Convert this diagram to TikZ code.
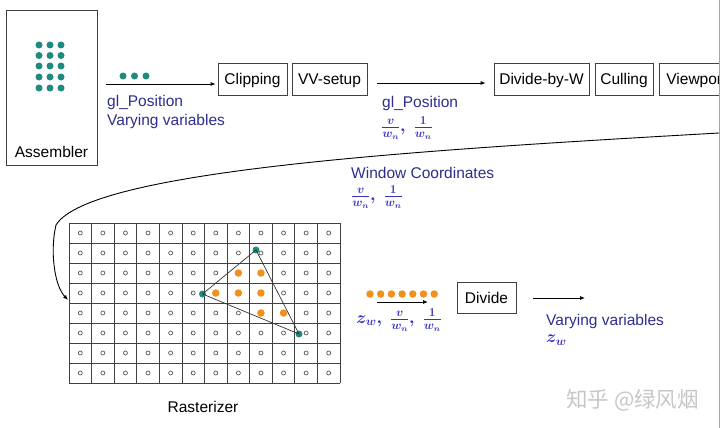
\documentclass[tikz,border=0pt]{standalone}
\usepackage{fontspec}
\setmainfont{Liberation Sans}
\newfontfamily\cjkfont{Noto Sans CJK SC}
\usetikzlibrary{arrows.meta}
\definecolor{navytxt}{HTML}{2E2E8E}
\definecolor{mathblue}{HTML}{3434C4}
\definecolor{tealdot}{HTML}{1E8A80}
\definecolor{orangedot}{HTML}{F2901E}
\tikzset{
  stagebox/.style={draw=black!75, line width=0.8pt, minimum height=32pt, inner sep=0pt, text depth=0pt, font=\fontsize{15.5}{18}\selectfont},
  lbl/.style={inner sep=0pt, anchor=west, text=navytxt, font=\fontsize{15.5}{18}\selectfont},
  mlbl/.style={inner sep=0pt, anchor=west, text=mathblue, font=\fontsize{17}{19}\selectfont\boldmath},
  flow/.style={line width=0.8pt, -{Latex[length=5pt,width=4pt]}},
  tdot/.style={circle, fill=tealdot, inner sep=0pt, minimum size=7pt},
  odot/.style={circle, fill=orangedot, inner sep=0pt, minimum size=7.5pt},
  pix/.style={circle, draw=black!65, line width=0.7pt, inner sep=0pt, minimum size=4pt},
}
\begin{document}
\begin{tikzpicture}[x=1pt,y=-1pt]
\useasboundingbox (0,0) rectangle (720,428);
\fill[white] (0,0) rectangle (720,428);

% Assembler
\draw[draw=black!75, line width=0.8pt] (6,10) rectangle (97,165);
\node[inner sep=0pt, font=\fontsize{15.5}{18}\selectfont] (asm) at (51.5,152) {Assembler};
\foreach \r/\yy in {0/45,1/55.5,2/66,3/77,4/88}
  \foreach \c/\xx in {0/39,1/50,2/61}
    \node[tdot] (a\r\c) at (\xx,\yy) {};

% top pipeline
\node[stagebox, minimum width=69pt] (clip) at (252.5,79) {Clipping};
\node[stagebox, minimum width=75pt] (vv) at (329.5,79) {VV-setup};
\node[stagebox, minimum width=95pt] (dbw) at (541.5,79) {Divide-by-W};
\node[stagebox, minimum width=58pt] (cull) at (624,79) {Culling};
\begin{scope}
\clip (0,0) rectangle (719,428);
\node[stagebox, minimum width=74pt, anchor=west] (vp) at (659,79) {Viewport};
\end{scope}

\coordinate (s1) at (106,84);
\draw[flow, shorten >=2pt] (s1) -- (s1 -| clip.west);
\foreach \i/\xx in {1/123,2/134.5,3/146}
  \node[tdot] (t\i) at (\xx,76) {};
\node[lbl] (gl1) at (107,102) {gl\_Position};
\node[lbl] (vv1) at (107,121) {Varying variables};

\coordinate (s2) at (377,83);
\draw[flow, shorten >=8pt] (s2) -- (s2 -| dbw.west);
\node[lbl] (gl2) at (382,103) {gl\_Position};
\node[mlbl] (f2) at (381,128) {$\frac{v}{w_n},\ \frac{1}{w_n}$};

% right edge line
\draw[gray!70, line width=1pt] (719,0) -- (719,428);

% curve to rasterizer
\coordinate (cstart) at (719,133);
\coordinate (cend) at (68,300);
\draw[line width=0.9pt, -{Latex[length=5pt,width=4pt]}] (cstart) .. controls (420,150) and (90,170) .. (56,225) .. controls (50,250) and (54,285) .. (cend);
\node[lbl] (wc) at (351,173) {Window Coordinates};
\node[mlbl] (f3) at (351,197) {$\frac{v}{w_n},\ \frac{1}{w_n}$};

% grid
\def\gx{69}\def\gy{223}\def\cw{22.583}\def\ch{20}
\foreach \i in {0,...,12}
  \draw[black!75, line width=0.7pt] ({\gx+\i*\cw},\gy) -- ({\gx+\i*\cw},{\gy+8*\ch});
\foreach \j in {0,...,8}
  \draw[black!75, line width=0.7pt] (\gx,{\gy+\j*\ch}) -- ({\gx+12*\cw},{\gy+\j*\ch});
\foreach \i in {0,...,11}
  \foreach \j in {0,...,7}{
    \def\isorange{0}
    \foreach \p/\q in {7/2,8/2,6/3,7/3,8/3,8/4,9/4}{
      \ifnum\i=\p\relax\ifnum\j=\q\relax\xdef\isorange{1}\fi\fi
    }
    \ifnum\isorange=1
      \node[odot] (o\i-\j) at ({\gx+(\i+0.5)*\cw},{\gy+(\j+0.5)*\ch}) {};
    \else
      \node[pix] (p\i-\j) at ({\gx+(\i+0.5)*\cw},{\gy+(\j+0.5)*\ch}) {};
    \fi
    \gdef\isorange{0}
  }
% triangle
\node[tdot] (va) at (256,250) {};
\node[tdot] (vb) at (202.5,294) {};
\node[tdot] (vc) at (299,334) {};
\draw[black!80, line width=0.7pt] (va.center) -- (vb.center) -- (vc.center) -- cycle;
\node[inner sep=0pt, font=\fontsize{15.5}{18}\selectfont] (rast) at (203,407) {Rasterizer};

% divide stage
\foreach \k in {0,...,6}
  \node[odot] (d\k) at ({370+\k*10.7},294) {};
\coordinate (s3) at (377,302);
\coordinate (e3) at (428,302);
\draw[flow] (s3) -- (e3);
\node[mlbl] (f4) at (356,320) {$z_w,\ \frac{v}{w_n},\ \frac{1}{w_n}$};
\node[stagebox, minimum width=59pt, minimum height=31pt] (div) at (486.5,297.5) {Divide};
\coordinate (e4) at (585,298);
\draw[flow, shorten <=17pt] (div.east |- e4) -- (e4);
\node[lbl] (vv2) at (546,321) {Varying variables};
\node[mlbl] (zw) at (546,340) {$z_w$};

% watermark
\node[inner sep=0pt, anchor=west, text=black!22, font=\fontsize{21.5}{23}\selectfont] (wm) at (566,400) {\cjkfont 知乎 @绿风烟};
\end{tikzpicture}
\end{document}
